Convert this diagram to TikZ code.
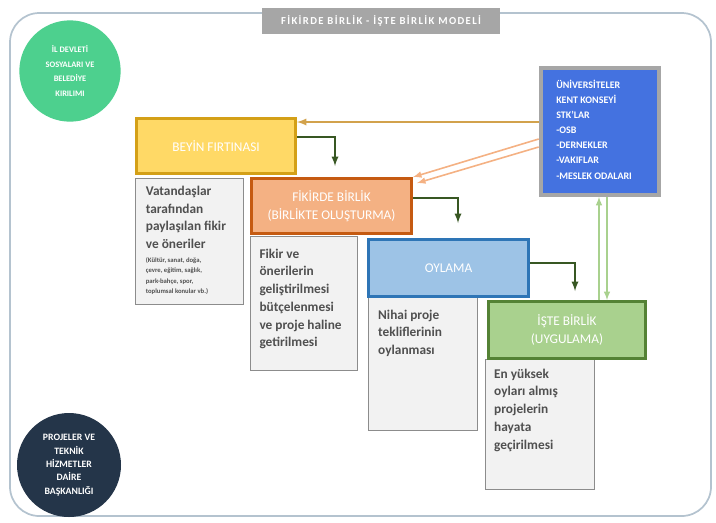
\documentclass[tikz,border=0pt]{standalone}
\usepackage{fontspec}
\setmainfont{Carlito}
\usetikzlibrary{positioning,calc}
\definecolor{framec}{HTML}{B4C3CF}
\definecolor{titlec}{HTML}{A6A6A6}
\definecolor{mint}{HTML}{4DD08E}
\definecolor{navy}{HTML}{243549}
\definecolor{partblue}{HTML}{4472E0}
\definecolor{yelfill}{HTML}{FFD966}
\definecolor{yelline}{HTML}{D4A017}
\definecolor{orafill}{HTML}{F4B183}
\definecolor{oraline}{HTML}{C55A11}
\definecolor{bluefill}{HTML}{9DC3E6}
\definecolor{blueline}{HTML}{2E75B6}
\definecolor{grnfill}{HTML}{A9D18E}
\definecolor{grnline}{HTML}{548235}
\definecolor{descfill}{HTML}{F2F2F2}
\definecolor{descline}{HTML}{8C8C8C}
\definecolor{desctxt}{HTML}{505050}
\definecolor{flowc}{HTML}{385723}
\definecolor{goldc}{HTML}{D2A24C}
\tikzstyle{stage}= [draw, line width=2.4pt, text=white, align=center, font=\fontsize{10}{13.5}\selectfont]
\tikzstyle{desc}= [draw=descline, fill=descfill, line width=0.6pt]
\tikzstyle{desctext}= [anchor=north west, align=left, inner sep=0pt, text=desctxt, font=\bfseries\fontsize{10}{13.3}\selectfont]
\tikzstyle{unit}= [circle, text=white, align=center]
\tikzstyle{flow}= [draw=flowc, line width=1.4pt, -latex]

\begin{document}
\begin{tikzpicture}[x=0.75pt, y=-0.75pt]
				\useasboundingbox (0,0) rectangle (716,522);
				\draw[framec, line width=1.3pt, rounded corners=22pt] (10,13) rectangle (711,516);
				\node[fill=titlec, minimum width=178pt, minimum height=20pt, text=white, font=\bfseries\fontsize{8}{9}\selectfont\addfontfeature{LetterSpace=13}] (title) at (381,21) {FİKİRDE BİRLİK - İŞTE BİRLİK MODELİ};
				\node[unit, fill=mint, minimum size=76pt, font=\bfseries\fontsize{6.3}{11.2}\selectfont] (il) at (70,71) {İL DEVLETİ\\SOSYALARI VE\\BELEDİYE\\KIRILIMI};
				\node[unit, fill=navy, minimum size=78pt, font=\bfseries\fontsize{7.3}{10}\selectfont] (pthd) at (69,465) {PROJELER VE\\TEKNİK\\HİZMETLER\\DAİRE\\BAŞKANLIĞI};
				\node[draw=titlec, fill=partblue, line width=3pt, minimum width=89pt, minimum height=95pt] (part) at (600,131.5) {};
				\node[anchor=north west, align=left, inner sep=0pt, text=white, font=\bfseries\fontsize{7.5}{11.3}\selectfont] (partlist) at (556,80) {ÜNİVERSİTELER\\KENT KONSEYİ\\STK'LAR\\-OSB\\-DERNEKLER\\-VAKIFLAR\\-MESLEK ODALARI};
				% asamalar
				\node[desc, minimum width=81pt, minimum height=95pt] (d1) at (189,241.5) {};
				\node[desc, minimum width=80pt, minimum height=100.5pt] (d2) at (304,303) {};
				\node[desc, minimum width=82pt, minimum height=100pt] (d3) at (423,363.5) {};
				\node[desc, minimum width=82pt, minimum height=97.5pt] (d4) at (540,424) {};
				\node[stage, fill=yelfill, draw=yelline, minimum width=119pt, minimum height=41pt] (beyin) at (216,146) {BEYİN FIRTINASI};
				\node[stage, fill=orafill, draw=oraline, minimum width=119.8pt, minimum height=41pt] (fikir) at (331.5,206) {FİKİRDE BİRLİK\\(BİRLİKTE OLUŞTURMA)};
				\node[stage, fill=bluefill, draw=blueline, minimum width=119.8pt, minimum height=42.5pt] (oylama) at (448.5,268) {OYLAMA};
				\node[stage, fill=grnfill, draw=grnline, minimum width=117.6pt, minimum height=42.5pt] (iste) at (567,330) {İŞTE BİRLİK\\(UYGULAMA)};
				\node[desctext] (t1) at ([shift={(11,8)}]d1.north west) {Vatandaşlar\\tarafından\\paylaşılan fikir\\ve öneriler\\[-3pt]{\fontsize{5}{7}\selectfont (Kültür, sanat, doğa,}\\[-5.5pt]{\fontsize{5}{7}\selectfont çevre, eğitim, sağlık,}\\[-5.5pt]{\fontsize{5}{7}\selectfont park-bahçe, spor,}\\[-5.5pt]{\fontsize{5}{7}\selectfont toplumsal konular vb.)}};
				\node[desctext] (t2) at ([shift={(9,13)}]d2.north west) {Fikir ve\\önerilerin\\geliştirilmesi\\bütçelenmesi\\ve proje haline\\getirilmesi};
				\node[desctext] (t3) at ([shift={(10,13)}]d3.north west) {Nihai proje\\tekliflerinin\\oylanması};
				\node[desctext] (t4) at ([shift={(9,10)}]d4.north west) {En yüksek\\oyları almış\\projelerin\\hayata\\geçirilmesi};
				\coordinate (a1) at (335,166);
				\coordinate (a2) at (458,223);
				\coordinate (a3) at (575,291);
				\draw[flow] (beyin.east |- 0,137) -| (a1);
				\draw[flow] (fikir.east |- 0,198) -| (a2);
				\draw[flow] (oylama.east |- 0,263) -| (a3);
				\draw[goldc, line width=1.4pt, -latex] (part.west |- 0,122) -- (beyin.east |- 0,122);
				\draw[orafill, line width=1.2pt, -latex] (part.west |- 0,139) -- (fikir.north east);
				\draw[orafill, line width=1.2pt, -latex] (part.west |- 0,147) -- ([shift={(4,6)}]fikir.north east);
				\draw[grnfill, line width=1.2pt, -latex] (iste.north -| 599,0) -- (part.south -| 599,0);
				\draw[grnfill, line width=1.2pt, -latex] (part.south -| 607,0) -- (iste.north -| 607,0);
			\end{tikzpicture}
\end{document}
